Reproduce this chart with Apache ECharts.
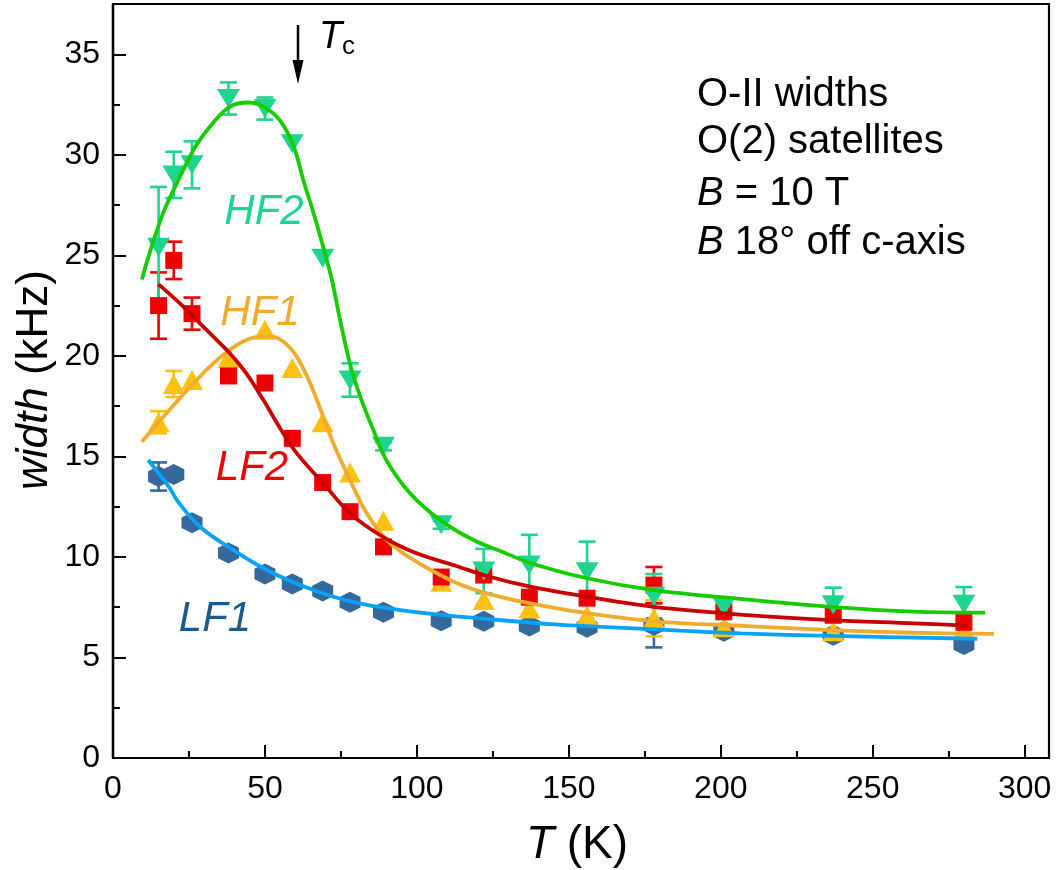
<!DOCTYPE html>
<html><head><meta charset="utf-8">
<script src="https://cdn.jsdelivr.net/npm/echarts@6/dist/echarts.min.js"></script>
<style>html,body{margin:0;padding:0;background:#fff}#c{width:1057px;height:870px}</style>
</head><body><div id="c"></div>
<script>
// ---- data ----
const temps = [15, 20, 26, 38, 50, 59, 69, 78, 89, 108, 122, 137, 156, 178, 201, 237, 280];

const lf1    = [14.0, 14.1, 11.7, 10.2, 9.15, 8.65, 8.3, 7.75, 7.25, 6.83, 6.8, 6.56, 6.5, 6.6, 6.3, 6.1, 5.65];
const lf1Err = [0.7, 0, 0, 0, 0, 0, 0, 0, 0, 0, 0, 0, 0, 1.1, 0, 0, 0];

const lf2    = [22.5, 24.75, 22.1, 19.0, 18.65, 15.9, 13.7, 12.25, 10.5, 9.0, 9.1, 8.0, 7.95, 8.6, 7.27, 7.1, 6.75];
const lf2Err = [1.65, 0.93, 0.8, 0, 0, 0, 0, 0, 0, 0, 0, 0, 0, 0.9, 0, 0, 0];

const hf1    = [16.7, 18.6, 18.8, 19.9, 21.3, 19.4, 16.7, 14.2, 11.8, 8.77, 7.86, 7.44, 7.1, 6.95, 6.5, 6.3, 6.4];
const hf1Err = [0.55, 0.65, 0, 0, 0, 0, 0, 0, 0, 0, 0, 0, 0, 0.9, 0, 0, 0];

const hf2    = [25.4, 29.0, 29.5, 32.8, 32.3, 30.55, 24.85, 18.8, 15.5, 11.6, 9.3, 9.6, 9.26, 8.05, 7.52, 7.62, 7.65];
const hf2Err = [3.0, 1.15, 1.17, 0.8, 0.55, 0, 0, 0.83, 0.2, 0.2, 1.1, 1.5, 1.5, 1.1, 0.3, 0.85, 0.85];

// fitted curves
const fitLf1T = [11.6, 18.8, 21.0, 28.6, 39.6, 50.6, 61.6, 72.5, 83.5, 94.5, 105.5, 121.9, 143.9, 156, 186.7, 206.5, 236.3, 284.4];
const fitLf1W = [14.82, 13.4, 12.83, 11.5, 10.34, 9.35, 8.6, 8.02, 7.61, 7.36, 7.16, 6.93, 6.66, 6.56, 6.33, 6.2, 6.07, 5.93];

const fitLf2T = [14.9, 22.1, 29.7, 38.5, 44, 49.5, 55.0, 60.5, 69.2, 78.0, 88.8, 99.9, 113, 123, 137.3, 156, 177.9, 208.7, 236.3, 263.5, 281];
const fitLf2W = [23.57, 22.6, 21.45, 20.12, 19.1, 17.8, 16.4, 15.15, 13.66, 12.17, 11.0, 10.18, 9.55, 9.05, 8.52, 8.02, 7.52, 7.11, 6.86, 6.7, 6.58];

const fitHf1T = [9.45, 16.6, 25.4, 33.0, 40.7, 47.3, 51.7, 56.1, 60.5, 64.9, 69.2, 72.5, 78.0, 83.5, 90.1, 98.9, 112.1, 123.0, 137.3, 156, 177.9, 208.7, 236.3, 263.5, 289.9];
const fitHf1W = [15.73, 16.97, 18.46, 19.63, 20.54, 20.95, 20.98, 20.7, 19.95, 18.63, 16.97, 15.65, 13.82, 12.17, 10.84, 9.85, 8.77, 8.19, 7.69, 7.2, 6.8, 6.56, 6.36, 6.23, 6.17];

const fitHf2T = [9.5, 12, 16.5, 22, 27.5, 33, 38.5, 44.5, 49.5, 55, 59.5, 62.7, 66, 69.2, 72, 74.7, 78, 81.3, 85.7, 90, 97.8, 107.7, 118.6, 127.4, 137.3, 156, 178, 207, 236, 263.5, 287];
const fitHf2W = [23.8, 25.1, 27.1, 28.9, 30.5, 31.6, 32.4, 32.6, 32.4, 31.7, 30.4, 28.7, 27.1, 25.4, 23.8, 21.8, 19.6, 18.0, 16.3, 14.8, 13.16, 11.83, 10.84, 10.3, 9.7, 8.94, 8.35, 7.9, 7.52, 7.28, 7.23];

const xTickLabels = [0, 50, 100, 150, 200, 250, 300];
const yTickLabels = [0, 5, 10, 15, 20, 25, 30, 35];

// ---- chart ----
const FONT = "'Liberation Sans', Arial, sans-serif";
const chart = echarts.init(document.getElementById('c'), null, {renderer: 'canvas'});

function pairs(xs, ys) { return xs.map((x, i) => [x, ys[i]]); }

function errSeries(vals, errs, color) {
  const data = temps.map((t, i) => [t, vals[i], errs[i]]).filter(d => d[2] > 0);
  return {
    type: 'custom', data, xAxisIndex: 0, yAxisIndex: 0,
    encode: {x: 0, y: 1}, silent: true,
    renderItem: (params, api) => {
      const x = api.value(0), y = api.value(1), e = api.value(2);
      const top = api.coord([x, y + e]), bot = api.coord([x, y - e]);
      const hw = 8.5, st = {stroke: color, lineWidth: 2.6};
      return {type: 'group', children: [
        {type: 'line', shape: {x1: top[0], y1: top[1], x2: bot[0], y2: bot[1]}, style: st},
        {type: 'line', shape: {x1: top[0] - hw, y1: top[1], x2: top[0] + hw, y2: top[1]}, style: st},
        {type: 'line', shape: {x1: bot[0] - hw, y1: bot[1], x2: bot[0] + hw, y2: bot[1]}, style: st}
      ]};
    }
  };
}

function scatter(vals, color, symbol, size, rotate) {
  return {type: 'scatter', data: pairs(temps, vals), symbol, symbolSize: size,
          symbolRotate: rotate || 0, itemStyle: {color, opacity: 1}, silent: true};
}

function fit(ts, ws, color) {
  return {type: 'line', data: pairs(ts, ws), showSymbol: false, smooth: 0.35,
          lineStyle: {color, width: 3.8}, silent: true, z: 5};
}

const hexagon = 'path://M0,-10L8.66,-5L8.66,5L0,10L-8.66,5L-8.66,-5Z';

const C = {
  lf1: '#35699c', lf1Line: '#08a2f8',
  lf2: '#ee0000', lf2Line: '#c80000',
  hf1: '#ffc014', hf1Line: '#f0ac2e',
  hf2: '#1ed48f', hf2Line: '#16cc00'
};

const axisCommon = {
  axisLine: {show: true, onZero: false, lineStyle: {color: '#000', width: 2.2}},
  splitLine: {show: false}
};

const TICKFONT = 32;
const left = (t, size, extra) => Object.assign({text: t, fill: '#000', font: size + 'px ' + FONT,
  align: 'left', verticalAlign: 'middle', textAlign: 'left', textVerticalAlign: 'middle'}, extra || {});
const center = (t, font, fill, extra) => Object.assign({text: t, fill: fill || '#000', font,
  align: 'center', verticalAlign: 'middle', textAlign: 'center', textVerticalAlign: 'middle'}, extra || {});

const option = {
  animation: false,
  backgroundColor: '#fff',
  grid: {left: 113, right: 8, top: 4, bottom: 112, show: true, borderColor: '#000', borderWidth: 2.2},
  xAxis: [
    Object.assign({type: 'value', min: 0, max: 308, interval: 50, position: 'bottom',
      axisTick: {show: true, inside: true, length: 13, lineStyle: {color: '#000', width: 2}},
      axisLabel: {show: true, margin: 15, color: '#000', fontSize: TICKFONT, fontFamily: FONT,
        showMaxLabel: false,
        formatter: v => xTickLabels.indexOf(v) >= 0 ? String(v) : ''}}, axisCommon),
    Object.assign({type: 'value', min: 0, max: 308, interval: 25, position: 'bottom',
      axisTick: {show: true, inside: true, length: 7, lineStyle: {color: '#000', width: 2}},
      axisLabel: {show: false}}, axisCommon)
  ],
  yAxis: [
    Object.assign({type: 'value', min: 0, max: 37.5, interval: 5, position: 'left',
      axisTick: {show: true, inside: true, length: 13, lineStyle: {color: '#000', width: 2}},
      axisLabel: {show: true, margin: 13, color: '#000', fontSize: TICKFONT, fontFamily: FONT,
        formatter: v => yTickLabels.indexOf(v) >= 0 ? String(v) : ''}}, axisCommon),
    Object.assign({type: 'value', min: 0, max: 37.5, interval: 2.5, position: 'left',
      axisTick: {show: true, inside: true, length: 7, lineStyle: {color: '#000', width: 2}},
      axisLabel: {show: false}}, axisCommon)
  ],
  series: [
    errSeries(lf1, lf1Err, C.lf1), scatter(lf1, C.lf1, hexagon, 21),
    errSeries(hf1, hf1Err, C.hf1), scatter(hf1, C.hf1, 'triangle', [22, 20]),
    errSeries(lf2, lf2Err, C.lf2), scatter(lf2, C.lf2, 'rect', 17),
    errSeries(hf2, hf2Err, C.hf2), scatter(hf2, C.hf2, 'triangle', [23, 19], 180),
    fit(fitLf1T, fitLf1W, C.lf1Line),
    fit(fitHf1T, fitHf1W, C.hf1Line),
    fit(fitLf2T, fitLf2W, C.lf2Line),
    fit(fitHf2T, fitHf2W, C.hf2Line)
  ],
  graphic: [
    // axis titles
    {type: 'text', x: 35, y: 380, rotation: Math.PI / 2,
     style: center('{i|width} (kHz)', '44px ' + FONT, '#000',
       {rich: {i: {fontStyle: 'italic', fontSize: 44, fontFamily: FONT}}})},
    {type: 'text', x: 577, y: 845,
     style: center('{i|T} (K)', '46px ' + FONT, '#000',
       {rich: {i: {fontStyle: 'italic', fontSize: 46, fontFamily: FONT}}})},
    // Tc arrow
    {type: 'line', shape: {x1: 298, y1: 25, x2: 298, y2: 66}, style: {stroke: '#000', lineWidth: 2.5}},
    {type: 'polygon', shape: {points: [[292.5, 60], [303.5, 60], [298, 84]]}, style: {fill: '#000'}},
    {type: 'text', x: 319, y: 37, style: left('T', 38, {font: 'italic 38px ' + FONT})},
    {type: 'text', x: 342, y: 47, style: left('c', 26)},
    // annotations
    {type: 'text', x: 697, y: 95, style: left('O-II widths', 40)},
    {type: 'text', x: 697, y: 142, style: left('O(2) satellites', 40)},
    {type: 'text', x: 697, y: 194, style: left('{i|B} = 10 T', 40,
       {rich: {i: {fontStyle: 'italic', fontSize: 40, fontFamily: FONT}}})},
    {type: 'text', x: 697, y: 243, style: left('{i|B} 18\u00B0 off c-axis', 40,
       {rich: {i: {fontStyle: 'italic', fontSize: 40, fontFamily: FONT}}})},
    // series labels
    {type: 'text', x: 264, y: 212, style: center('HF2', 'italic 42px ' + FONT, C.hf2)},
    {type: 'text', x: 260, y: 313, style: center('HF1', 'italic 42px ' + FONT, C.hf1Line)},
    {type: 'text', x: 252, y: 468, style: center('LF2', 'italic 42px ' + FONT, C.lf2)},
    {type: 'text', x: 215, y: 619, style: center('LF1', 'italic 42px ' + FONT, '#1a5a8c')}
  ]
};
chart.setOption(option);
</script>
</body></html>
